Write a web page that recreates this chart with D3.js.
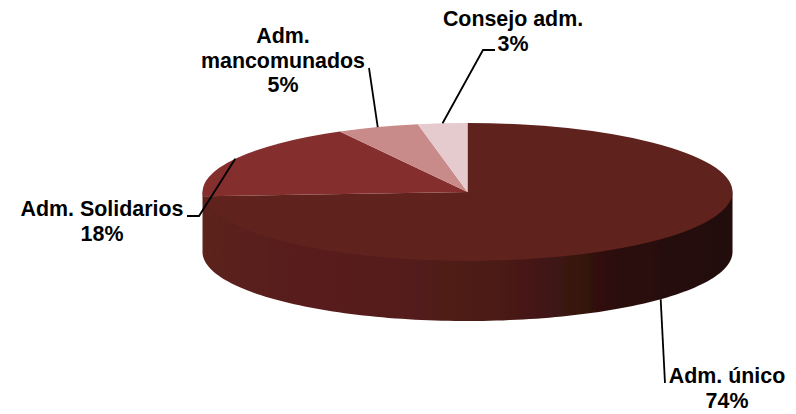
<!DOCTYPE html>
<html><head><meta charset="utf-8">
<script src="https://cdn.jsdelivr.net/npm/d3@7"></script>
<style>html,body{margin:0;background:#fff}svg{display:block}
text{font-family:"Liberation Sans",Arial,sans-serif;font-weight:bold;font-size:21.4px;fill:#000;text-anchor:middle}</style>
</head><body><svg id="c" width="796" height="414"></svg>
<script>
const categories = ["Adm. único","Adm. Solidarios","Adm. mancomunados","Consejo adm."];
const values = [74,18,5,3];
const colors = ["#5f211c","#842f2e","#c98a8a","#e6cbce"];
const labelLines = [["Adm. único","74%"],["Adm. Solidarios","18%"],["Adm.","mancomunados","5%"],["Consejo adm.","3%"]];

const W=796,H=414,cx=467.5,cy=192,rx=265,ry=69,depth=60;
const svg=d3.select("#c");
const defs=svg.append("defs");
defs.append("filter").attr("id","soft").append("feGaussianBlur").attr("stdDeviation",0.6);
const g1=defs.append("linearGradient").attr("id","wall").attr("gradientUnits","userSpaceOnUse")
  .attr("x1",cx-rx).attr("x2",cx+rx).attr("y1",0).attr("y2",0);
[[0,"#5b201d"],[0.35,"#561e1b"],[0.6,"#481916"],[0.78,"#2c0f0c"],[1,"#220b09"]].forEach(s=>g1.append("stop").attr("offset",s[0]).attr("stop-color",s[1]));

const pie=d3.pie().sort(null).value(d=>d)(values);
const pt=(a,dy=0)=>[cx+rx*Math.sin(a),cy-ry*Math.cos(a)+dy];
const root=svg.append("g").attr("filter","url(#soft)");

// wall: front half of the rim, tucked a little under the top face so no seam shows
const front=(a0,a1)=>{
  const s=Math.max(a0,Math.PI/2),e=Math.min(a1,3*Math.PI/2);
  if(e<=s) return null;
  const as=d3.range(0,121).map(i=>s+(e-s)*i/120);
  return d3.area().x(a=>pt(a)[0]).y0(a=>pt(a)[1]-3).y1(a=>pt(a,depth)[1])(as);
};
root.selectAll("path.wall").data(pie).join("path").attr("class","wall")
  .attr("d",d=>front(d.startAngle,d.endAngle))
  .attr("fill","url(#wall)");

// top face
const arc=d3.arc().innerRadius(0).outerRadius(rx);
root.append("g").attr("transform",`translate(${cx},${cy}) scale(1,${ry/rx})`)
  .selectAll("path").data(pie).join("path").attr("d",arc).attr("fill",(d,i)=>colors[i]);

// leaders: label-side bend points, anchored on each slice's mid-angle
const elbows=[[[665,383]],[[199,216],[187,216]],[[369,68]],[[483,50],[495,50]]];
const line=d3.line();
svg.selectAll("path.lead").data(pie).join("path").attr("class","lead")
  .attr("fill","none").attr("stroke","#000").attr("stroke-width",1.8)
  .attr("d",(d,i)=>{const a=(d.startAngle+d.endAngle)/2;
    return line([pt(a,i===0?depth:0),...elbows[i]]);});

const labelPos=[[727,383],[102,216],[283,43],[513,26]];
const lh=24.5;
svg.selectAll("text").data(labelLines).join("text")
  .attr("transform",(d,i)=>`translate(${labelPos[i][0]},${labelPos[i][1]})`)
  .selectAll("tspan").data(d=>d).join("tspan").attr("x",0).attr("y",(d,i)=>i*lh).text(d=>d);
</script></body></html>
